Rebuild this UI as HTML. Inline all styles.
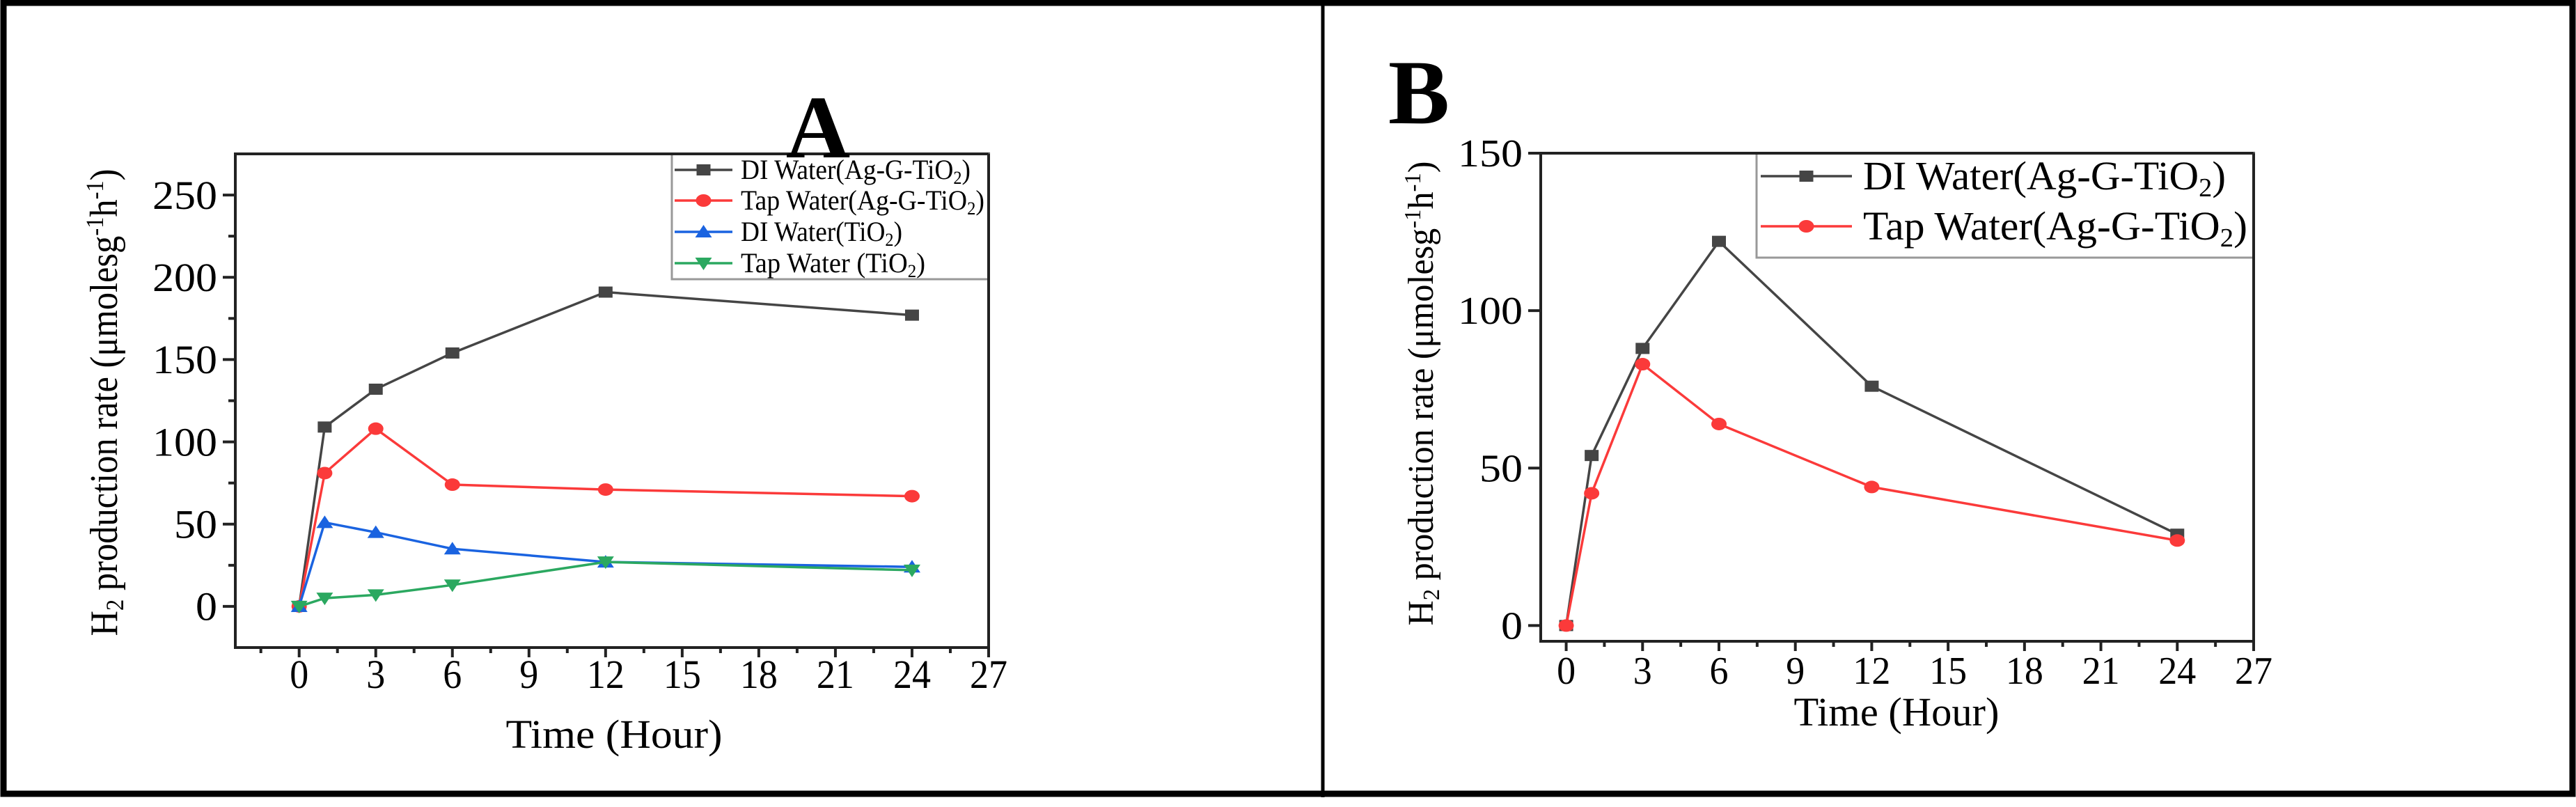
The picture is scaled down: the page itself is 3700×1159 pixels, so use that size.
<!DOCTYPE html>
<html><head><meta charset="utf-8"><style>
html,body{margin:0;padding:0;background:#fff;}
svg text{font-family:"Liberation Serif",serif;fill:#000;}
</style></head><body>
<svg id="fig" xmlns="http://www.w3.org/2000/svg" width="3700" height="1154" viewBox="0 0 3700 1154">
<rect x="5" y="4" width="3690" height="1136" fill="none" stroke="#000" stroke-width="9"/>
<line x1="1900" y1="0" x2="1900" y2="1145" stroke="#000" stroke-width="5"/>
<g id="ga"></g>
<g id="gb"></g>
</svg>
<script>
const xTicks = [0,3,6,9,12,15,18,21,24,27];
const timesA = [0,1,3,6,12,24];
const diAgA = [0,109,132,154,191,177];
const tapAgA = [0,81,108,74,71,67];
const diTiA = [0,51,45,35,27,24];
const tapTiA = [0,5,7,13,27,22];
const yTicksA = [0,50,100,150,200,250];
const timesB = [0,1,3,6,12,24];
const diAgB = [0,54,88,122,76,29];
const tapAgB = [0,42,83,64,44,27];
const yTicksB = [0,50,100,150];

const NS = 'http://www.w3.org/2000/svg';
function mk(parent, tag, attrs, txt){
  const e = document.createElementNS(NS, tag);
  for (const k in attrs) e.setAttribute(k, attrs[k]);
  if (txt !== undefined) e.textContent = txt;
  parent.appendChild(e);
  return e;
}
function marker(g, type, cx, cy, color){
  let e;
  if (type === 'square') e = mk(g,'rect',{x:cx-10,y:cy-8,width:20,height:16,fill:color});
  else if (type === 'circle') e = mk(g,'ellipse',{cx:cx,cy:cy,rx:11,ry:9,fill:color});
  else if (type === 'up') e = mk(g,'polygon',{points:`${cx-12},${cy+8} ${cx+12},${cy+8} ${cx},${cy-10}`,fill:color});
  else e = mk(g,'polygon',{points:`${cx-12},${cy-8} ${cx+12},${cy-8} ${cx},${cy+10}`,fill:color});
  return e;
}
function panel(g, cfg){
  const {L,R,T,B,xmin,xmax,ymin,ymax} = cfg;
  const X = v => L + (v - xmin)/(xmax - xmin)*(R - L);
  const Y = v => B - (v - ymin)/(ymax - ymin)*(B - T);
  const ax = mk(g,'g',{});
  
  
  mk(ax,'rect',{x:L,y:T,width:R-L,height:B-T,fill:'none',stroke:'#222','stroke-width':4});
  cfg.xTicks.forEach((v,i)=>{
    const x = X(v);
    mk(ax,'line',{x1:x,y1:B,x2:x,y2:B+14,stroke:'#222','stroke-width':4});
    const t = mk(ax,'text',{x:x,y:cfg.xLabY,'font-size':cfg.tfs,'text-anchor':'middle',textLength:String(v).length*27,lengthAdjust:'spacingAndGlyphs'}, String(v));
    
    
    if (i < cfg.xTicks.length-1){
      const xm = X(v+1.5);
      mk(ax,'line',{x1:xm,y1:B,x2:xm,y2:B+8,stroke:'#222','stroke-width':4});
    }
  });
  const xm0 = X(cfg.xTicks[0]-1.5);
  if (xm0 > L) mk(ax,'line',{x1:xm0,y1:B,x2:xm0,y2:B+8,stroke:'#222','stroke-width':4});
  cfg.yTicks.forEach((v,i)=>{
    const y = Y(v);
    mk(ax,'line',{x1:L,y1:y,x2:L-18,y2:y,stroke:'#222','stroke-width':4});
    const t = mk(ax,'text',{x:L-26,y:y+cfg.tfs*0.34,'font-size':cfg.tfs,'text-anchor':'end',textLength:String(v).length*31,lengthAdjust:'spacingAndGlyphs'}, String(v));
    
    
    if (cfg.yMinor && i < cfg.yTicks.length-1){
      const ym = Y(v+cfg.yMinor);
      mk(ax,'line',{x1:L,y1:ym,x2:L-10,y2:ym,stroke:'#222','stroke-width':4});
    }
  });
  const xt = mk(g,'text',{x:cfg.xTitleX,y:cfg.xTitleY,'font-size':58,'text-anchor':'middle',textLength:cfg.xTitleW,lengthAdjust:'spacingAndGlyphs'},'Time (Hour)');
  
  
  const yt = mk(g,'text',{transform:`translate(${cfg.yTitleX},${cfg.yTitleY}) rotate(-90)`,'font-size':cfg.yfs,'text-anchor':'middle',textLength:cfg.yTitleW,lengthAdjust:'spacingAndGlyphs'});
  
  
  const sf = Math.round(cfg.yfs*0.65);
  yt.innerHTML = 'H<tspan baseline-shift="-25%" font-size="'+sf+'">2</tspan> production rate (μmolesg<tspan baseline-shift="super" font-size="'+sf+'">-1</tspan>h<tspan baseline-shift="super" font-size="'+sf+'">-1</tspan>)';
  cfg.series.forEach(s=>{
    const sg = mk(g,'g',{});
    
    
    const pts = s.t.map((t,i)=>X(t)+','+Y(s.v[i])).join(' ');
    mk(sg,'polyline',{points:pts,fill:'none',stroke:s.color,'stroke-width':3.5});
    s.t.forEach((t,i)=>{
      const m = marker(sg, s.marker, X(t), Y(s.v[i]), s.color);
      
      
    });
  });
  const lg = mk(g,'g',{});
  
  
  const Lc = cfg.legend;
  mk(lg,'rect',{x:Lc.x,y:T,width:R-Lc.x,height:Lc.h,fill:'#fff',stroke:'#999','stroke-width':3});
  mk(lg,'line',{x1:L,y1:T,x2:R,y2:T,stroke:'#222','stroke-width':4});
  mk(lg,'line',{x1:R,y1:T,x2:R,y2:B,stroke:'#222','stroke-width':4});
  cfg.series.forEach((s,i)=>{
    const ey = Lc.rows[i];
    const eg = mk(lg,'g',{});
    
    
    mk(eg,'line',{x1:Lc.lx1,y1:ey,x2:Lc.lx2,y2:ey,stroke:s.color,'stroke-width':3.5});
    marker(eg, s.marker, (Lc.lx1+Lc.lx2)/2, ey, s.color);
    const fs = Lc.fs;
    const t = mk(eg,'text',{x:Lc.tx,y:ey+fs*0.33,'font-size':fs,textLength:s.lw,lengthAdjust:'spacingAndGlyphs'});
    t.innerHTML = s.label + 'O<tspan baseline-shift="-25%" font-size="'+(fs*0.65)+'">2</tspan>)';
  });
}
const ga = document.getElementById('ga');
panel(ga,{L:338,R:1420,T:221,B:930,xmin:-2.5,xmax:27,ymin:-25,ymax:275,tfs:58,yfs:56,
  xTicks:xTicks,yTicks:yTicksA,yMinor:25,xLabY:988,
  xTitleX:882,xTitleY:1074,xTitleW:311,yTitleX:168,yTitleY:578,yTitleW:671,
  legend:{x:965,h:180,rows:[244,288,333,378],lx1:969,lx2:1052,tx:1064,fs:40},
  series:[
    {name:'series-di-water-ag-g-tio2',t:timesA,v:diAgA,color:'#454545',marker:'square',label:'DI Water(Ag-G-Ti',lw:330},
    {name:'series-tap-water-ag-g-tio2',t:timesA,v:tapAgA,color:'#fb3a3a',marker:'circle',label:'Tap Water(Ag-G-Ti',lw:350},
    {name:'series-di-water-tio2',t:timesA,v:diTiA,color:'#1a63e0',marker:'up',label:'DI Water(Ti',lw:232},
    {name:'series-tap-water-tio2',t:timesA,v:tapTiA,color:'#2ba860',marker:'down',label:'Tap Water (Ti',lw:265}
  ]});
const gb = document.getElementById('gb');
panel(gb,{L:2213,R:3237,T:220,B:921,xmin:-1,xmax:27,ymin:-5,ymax:150,tfs:56,yfs:52,
  xTicks:xTicks,yTicks:yTicksB,yMinor:0,xLabY:982,
  xTitleX:2724,xTitleY:1042,xTitleW:295,yTitleX:2058,yTitleY:565,yTitleW:667,
  legend:{x:2523,h:150,rows:[253,325],lx1:2529,lx2:2660,tx:2676,fs:58},
  series:[
    {name:'series-di-water-ag-g-tio2',t:timesB,v:diAgB,color:'#454545',marker:'square',label:'DI Water(Ag-G-Ti',lw:521},
    {name:'series-tap-water-ag-g-tio2',t:timesB,v:tapAgB,color:'#fb3a3a',marker:'circle',label:'Tap Water(Ag-G-Ti',lw:552}
  ]});
const fig = document.getElementById('fig');
const la = mk(fig,'text',{x:1175,y:226,'font-size':128,'font-weight':'bold','text-anchor':'middle'},'A');


const lb = mk(fig,'text',{x:2038,y:177,'font-size':132,'font-weight':'bold','text-anchor':'middle'},'B');


</script>
</body></html>
